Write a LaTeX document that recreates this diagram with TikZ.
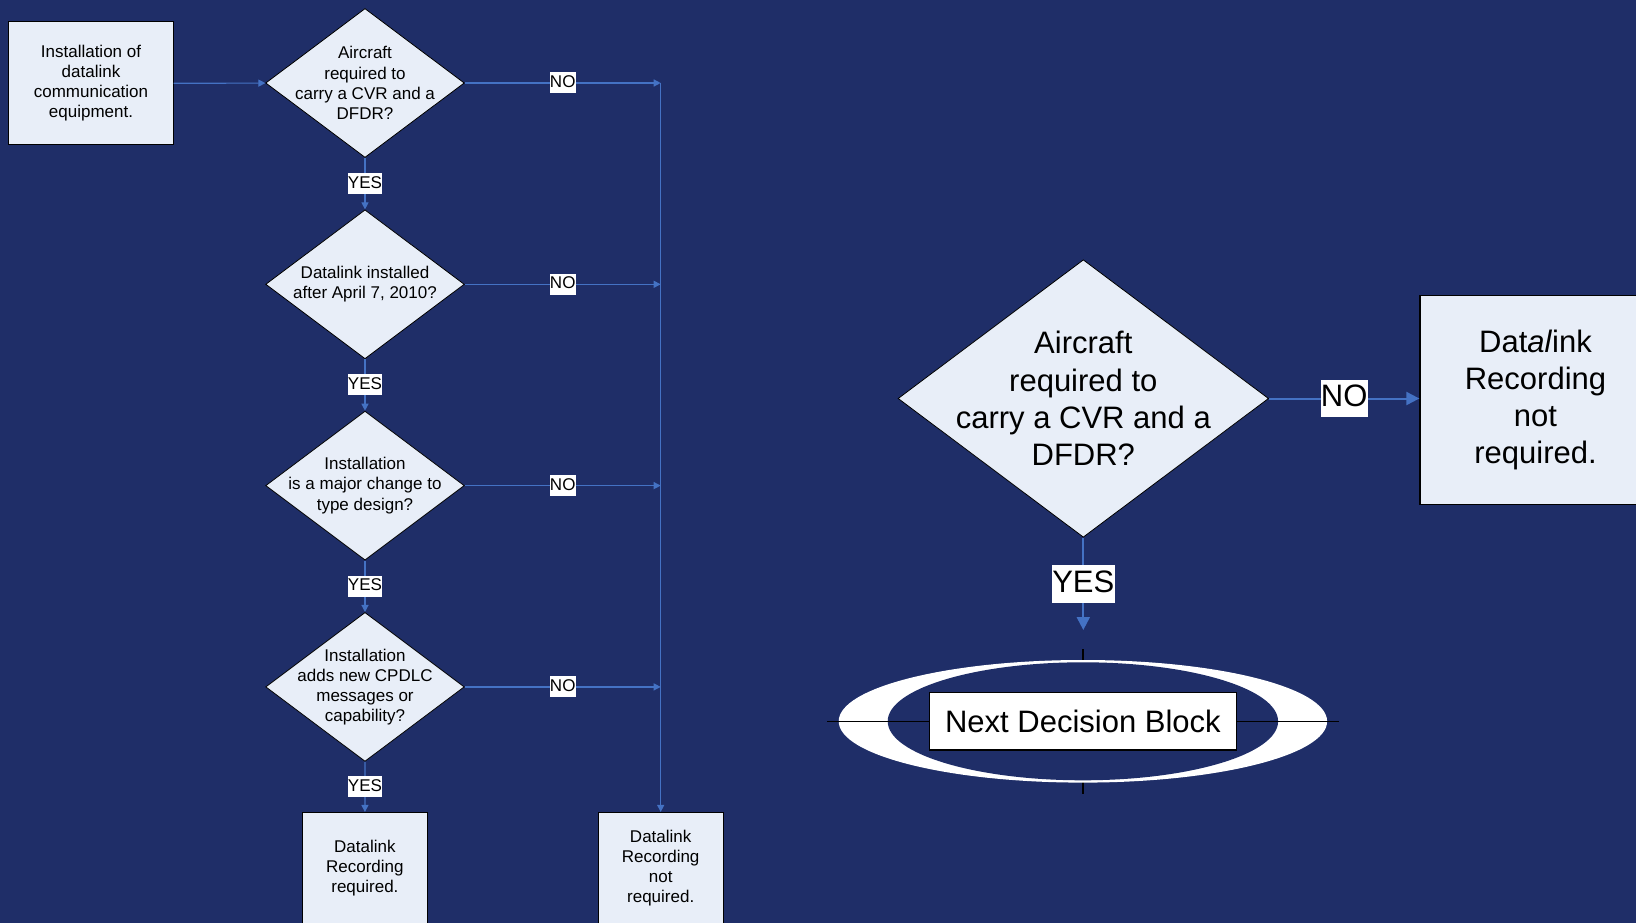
\documentclass[tikz,border=0pt]{standalone}
\usepackage{fontspec}
\setmainfont{Liberation Sans}
\usepackage{tikz}
\usetikzlibrary{arrows.meta,shapes.geometric}

\definecolor{navy}{RGB}{31,46,104}
\definecolor{boxfill}{RGB}{232,238,248}
\definecolor{linkblue}{RGB}{68,114,196}

\tikzset{
  box/.style={rectangle,draw=black,line width=1pt,fill=boxfill,align=center,
    font=\fontsize{17}{20.2}\selectfont},
  decision/.style={diamond,draw=black,line width=0.8pt,fill=boxfill,align=center,
    inner sep=-40pt,minimum width=198.7pt,minimum height=149pt,
    font=\fontsize{17}{20.2}\selectfont},
  bigdecision/.style={decision,inner sep=-70pt,minimum width=370.6pt,minimum height=277.5pt,
    font=\fontsize{31}{37.2}\selectfont},
  lbl/.style={fill=white,text=black,inner xsep=0.3pt,inner ysep=1.5pt,
    text height=13.5pt,text depth=4.5pt,font=\fontsize{17}{20.2}\selectfont},
  biglbl/.style={fill=white,text=black,inner xsep=0.3pt,inner ysep=2.1pt,
    text height=25pt,text depth=8.5pt,font=\fontsize{31}{37.2}\selectfont},
  flow/.style={color=linkblue,line width=1.2pt},
  bigflow/.style={color=linkblue,line width=2pt,>={Triangle[length=13pt,width=13pt]}}
}

\begin{document}
\begin{tikzpicture}[x=1pt,y=-1pt,>={Triangle[length=7pt,width=7pt]},node distance=201.3pt]
  \useasboundingbox (0,0) rectangle (1636,923);
  \clip (0,0) rectangle (1636,923);
  \fill[navy] (0,0) rectangle (1636,923);

  % left chart
  \node[box,minimum width=164.3pt,minimum height=122.7pt] (inst) at (91,83.3)
    {Installation of\\datalink\\communication\\equipment.};
  \node[decision] (d1) at (365,83) {Aircraft\\required to\\carry a CVR and a\\DFDR?};
  \node[decision] (d2) [below of=d1] {Datalink installed\\after April 7, 2010?};
  \node[decision] (d3) [below of=d2] {Installation\\is a major change to\\type design?};
  \node[decision] (d4) [below of=d3] {Installation\\adds new CPDLC\\messages or\\capability?};
  \node[box,minimum width=124.9pt,minimum height=111.5pt] (req) at (364.9,868.2)
    {Datalink\\Recording\\required.};
  \node[box,minimum width=125.4pt,minimum height=111.5pt] (nr) at (660.7,868.2)
    {Datalink\\Recording\\not\\required.};

  \path[flow,->] (inst) edge (d1)
    (d1) edge node[lbl] {YES} (d2)
    (d2) edge node[lbl] {YES} (d3)
    (d3) edge node[lbl] {YES} (d4)
    (d4) edge node[lbl] {YES} (req);
  \path[flow,->] (d1) edge node[lbl] {NO} (d1 -| nr)
    (d2) edge node[lbl] {NO} (d2 -| nr)
    (d3) edge node[lbl] {NO} (d3 -| nr)
    (d4) edge node[lbl] {NO} (d4 -| nr)
    (d1 -| nr) edge (nr);

  % right chart
  \node[bigdecision] (q) at (1083.3,398.5) {Aircraft\\required to\\carry a CVR and a\\DFDR?};
  \node[box,line width=1.3pt,minimum width=231pt,minimum height=209.3pt,
    font=\fontsize{31}{37.2}\selectfont] (rnr) at (1535.5,400)
    {Dat\textit{al}ink\\Recording\\not\\required.};
  \coordinate (yesend) at (1083.3,630);

  \path[bigflow,->] (q) edge node[biglbl] {NO} (q -| rnr.west)
    (q) edge node[biglbl] {YES} (yesend);

  % next block ring
  \draw[black,line width=1.3pt] (1082.9,649.3) -- (1082.9,794);
  \fill[white] (1082.9,721.3) ellipse [x radius=244.2, y radius=61.3];
  \fill[navy] (1082.9,721.3) ellipse [x radius=195.2, y radius=59];
  \draw[black,line width=1.3pt] (827.4,721.3) -- (1339,721.3);
  \node[rectangle,draw=black,line width=1.3pt,fill=white,minimum width=307.3pt,
    minimum height=57.3pt,font=\fontsize{31}{37.2}\selectfont] (nextb) at (1082.9,721.3)
    {Next Decision Block};
\end{tikzpicture}
\end{document}
